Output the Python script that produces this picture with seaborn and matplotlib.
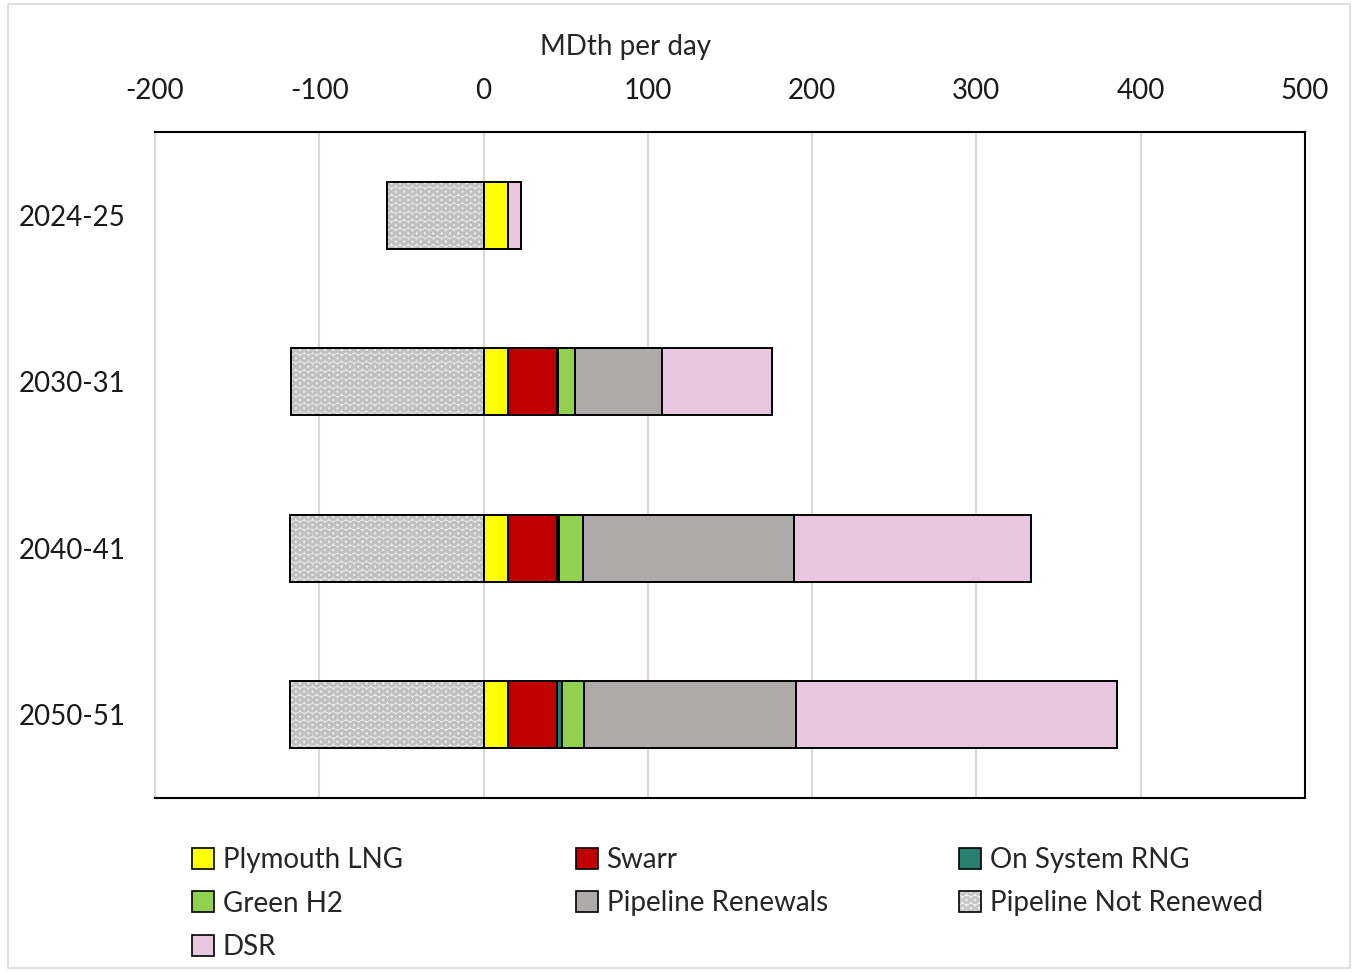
import numpy as np
import pandas as pd
import matplotlib
matplotlib.use("Agg")
import matplotlib.pyplot as plt
import matplotlib.patches as mpatches
from matplotlib.legend_handler import HandlerTuple
import seaborn as sns

# Capacity additions by winter (MDth per day)
years = ["2024-25", "2030-31", "2040-41", "2050-51"]
plymouth_lng = [15, 15, 15, 15]
swarr = [0, 29.5, 29.5, 29.5]
on_system_rng = [0, 1, 1.5, 3]
green_h2 = [0, 10, 14.5, 13.5]
pipeline_renewals = [0, 53, 128.5, 129]
pipeline_not_renewed = [-59, -117, -118, -118]
dsr = [7.5, 67, 144.5, 195.5]

x_ticks = [-200, -100, 0, 100, 200, 300, 400, 500]

series = [
    ("Plymouth LNG", plymouth_lng, "#FFFF00"),
    ("Swarr", swarr, "#C00000"),
    ("On System RNG", on_system_rng, "#267F6F"),
    ("Green H2", green_h2, "#92D050"),
    ("Pipeline Renewals", pipeline_renewals, "#AEAAAA"),
    ("DSR", dsr, "#E9C6E0"),
]
not_renewed_face = "#E9E9E9"
not_renewed_hatch = "#C0C0C0"

sns.set_theme(style="white")
plt.rcParams["font.family"] = ["Lato", "DejaVu Sans"]
plt.rcParams["hatch.linewidth"] = 1.8

FS = 20

fig = plt.figure(figsize=(13.53, 9.72), dpi=100)
ax = fig.add_axes([155 / 1353, 1 - 798 / 972, 1150 / 1353, 666 / 972])

edge_lw = 1.4
bar_w = 0.4

# Negative segment: hatched fill first, then a plain black outline
sns.barplot(x=pipeline_not_renewed, y=years, order=years, orient="h", ax=ax,
            color=not_renewed_face, edgecolor=not_renewed_hatch, hatch="OO",
            linewidth=0, width=bar_w, saturation=1, zorder=3)
sns.barplot(x=pipeline_not_renewed, y=years, order=years, orient="h", ax=ax,
            fill=False, edgecolor="black", linewidth=edge_lw, width=bar_w,
            zorder=4)

# Positive segments stacked from zero
left = np.zeros(len(years))
for name, vals, col in series:
    vals = np.asarray(vals, dtype=float)
    sns.barplot(x=vals, y=years, order=years, orient="h", ax=ax, left=left,
                color=col, edgecolor="black", linewidth=edge_lw, width=bar_w,
                saturation=1, zorder=3)
    left = left + vals

ax.set_xlim(-200, 500)
ax.set_ylim(3.5, -0.5)
ax.set_xticks(x_ticks)
ax.set_xticklabels([str(t) for t in x_ticks])
ax.xaxis.tick_top()
ax.xaxis.set_label_position("top")
ax.set_xlabel("MDth per day", fontsize=FS)
ax.xaxis.set_label_coords((626 - 155) / 1150, (798 - 47) / 666)
ax.xaxis.label.set_va("center")
ax.xaxis.label.set_ha("center")
ax.set_ylabel("")

ax.tick_params(axis="x", length=0, pad=20, labelsize=FS, colors="#1a1a1a")
ax.tick_params(axis="y", length=0, pad=21, labelsize=FS, colors="#1a1a1a")

ax.grid(axis="x", color="#D9D9D9", linewidth=1.5, zorder=0)
ax.grid(axis="y", visible=False)
ax.set_axisbelow(True)

for side in ["top", "right", "bottom"]:
    ax.spines[side].set_color("black")
    ax.spines[side].set_linewidth(1.5)
ax.spines["left"].set_color("#D9D9D9")
ax.spines["left"].set_linewidth(1.5)

# Legend entries laid out in three fixed-width columns
def solid_key(col):
    return mpatches.Patch(facecolor=col, edgecolor="black", linewidth=1.2)

def hatched_key():
    fill = mpatches.Patch(facecolor="#F2F2F2", edgecolor="#C8C8C8",
                          hatch="OO", linewidth=0)
    outline = mpatches.Patch(facecolor="none", edgecolor="black", linewidth=1.2)
    return (fill, outline)

color_of = {name: col for name, _, col in series}
columns = [
    (192, ["Plymouth LNG", "Green H2", "DSR"]),
    (576, ["Swarr", "Pipeline Renewals"]),
    (959, ["On System RNG", "Pipeline Not Renewed"]),
]
for x0, names in columns:
    handles = [hatched_key() if n == "Pipeline Not Renewed" else solid_key(color_of[n])
               for n in names]
    fig.legend(handles, names, loc="upper left",
               bbox_to_anchor=(x0 / 1353, 1 - 847 / 972),
               handler_map={tuple: HandlerTuple(ndivide=1, pad=0)},
               frameon=False, fontsize=FS, handlelength=0.8, handleheight=0.8,
               handletextpad=0.3, labelspacing=0.63, borderpad=0,
               borderaxespad=0)

# Thin outer border around the figure
fig.add_artist(mpatches.Rectangle((8 / 1353, 4 / 972), 1342 / 1353, 964 / 972,
                                  transform=fig.transFigure, fill=False,
                                  edgecolor="#D9D9D9", linewidth=1.2))

fig.savefig("out.png", dpi=100, facecolor="white")
